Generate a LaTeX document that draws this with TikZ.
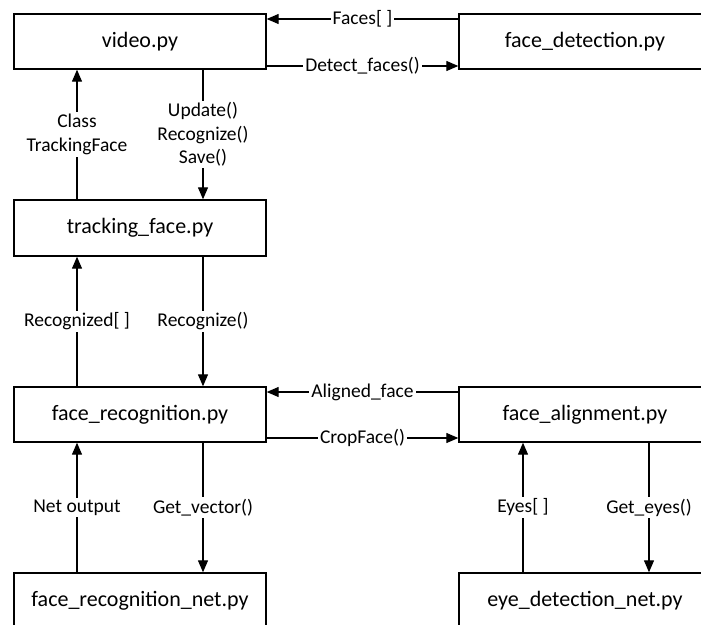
\documentclass[tikz,border=0pt]{standalone}
\usepackage{fontspec}
\setmainfont{Carlito}
\usetikzlibrary{arrows.meta}
\begin{document}
\begin{tikzpicture}[x=1pt,y=-1pt,
  box/.style={draw,line width=1.4pt,minimum width=252pt,minimum height=55pt,inner sep=0pt,font=\fontsize{22}{26}\selectfont},
  conn/.style={line width=1.3pt,-{Triangle[length=12pt,width=10pt]}},
  lbl/.style={fill=white,inner sep=2pt,align=center,font=\fontsize{19.5}{23.5}\selectfont}]
\useasboundingbox (0,0) rectangle (701,624);
\clip (0,0) rectangle (701,624);
\node[box] (video) at (140,41.5) {video.py};
\node[box] (fdet) at (585,41.5) {face\_detection.py};
\node[box,minimum height=56pt] (track) at (140,228) {tracking\_face.py};
\node[box] (frec) at (140,414.5) {face\_recognition.py};
\node[box] (falign) at (585,414.5) {face\_alignment.py};
\node[box] (frnet) at (140,600.5) {face\_recognition\_net.py};
\node[box] (eyenet) at (585,600.5) {eye\_detection\_net.py};
% top horizontal
\draw[conn] ([yshift=22.5pt]fdet.west) -- node[lbl,midway]{Faces[ ]} ([yshift=22.5pt]video.east);
\draw[conn] ([yshift=-24.5pt]video.east) -- node[lbl,midway]{Detect\_faces()} ([yshift=-24.5pt]fdet.west);
% video <-> tracking
\draw[conn] ([xshift=63pt]video.south) -- node[lbl,midway]{Update()\\Recognize()\\Save()} ([xshift=63pt]track.north);
\draw[conn] ([xshift=-63pt]track.north) -- node[lbl,midway]{Class\\TrackingFace} ([xshift=-63pt]video.south);
% tracking <-> recognition
\draw[conn] ([xshift=-63pt]frec.north) -- node[lbl,midway]{Recognized[ ]} ([xshift=-63pt]track.south);
\draw[conn] ([xshift=63pt]track.south) -- node[lbl,midway]{Recognize()} ([xshift=63pt]frec.north);
% recognition <-> alignment
\draw[conn] ([yshift=22.5pt]falign.west) -- node[lbl,midway]{Aligned\_face} ([yshift=22.5pt]frec.east);
\draw[conn] ([yshift=-23.5pt]frec.east) -- node[lbl,midway]{CropFace()} ([yshift=-23.5pt]falign.west);
% recognition <-> net
\draw[conn] ([xshift=-63pt]frnet.north) -- node[lbl,midway]{Net output} ([xshift=-63pt]frec.south);
\draw[conn] ([xshift=63pt]frec.south) -- node[lbl,midway]{Get\_vector()} ([xshift=63pt]frnet.north);
% alignment <-> eye net
\draw[conn] ([xshift=-62pt]eyenet.north) -- node[lbl,midway]{Eyes[ ]} ([xshift=-62pt]falign.south);
\draw[conn] ([xshift=64pt]falign.south) -- node[lbl,midway]{Get\_eyes()} ([xshift=64pt]eyenet.north);
\end{tikzpicture}
\end{document}
